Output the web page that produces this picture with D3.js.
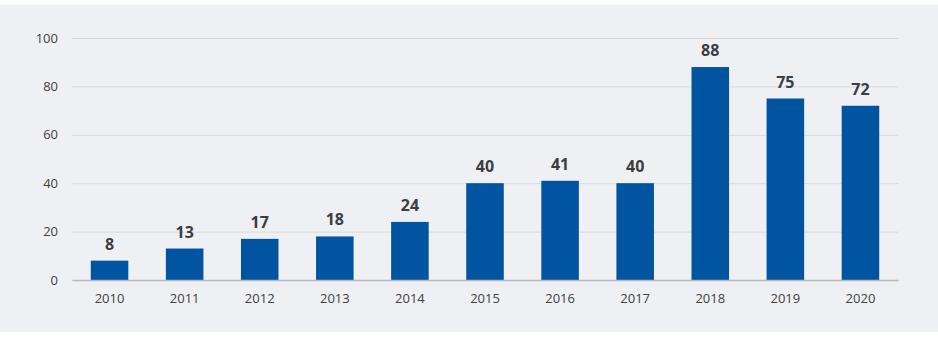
<!DOCTYPE html>
<html>
<head>
<meta charset="utf-8">
<script src="https://cdn.jsdelivr.net/npm/d3@7"></script>
<style>
  html, body { margin: 0; padding: 0; background: #ffffff; }
  svg { display: block; }
</style>
</head>
<body>
<svg id="chart" width="938" height="337"></svg>
<script>
const years = ["2010", "2011", "2012", "2013", "2014", "2015", "2016", "2017", "2018", "2019", "2020"];
const counts = [8, 13, 17, 18, 24, 40, 41, 40, 88, 75, 72];
const yTicks = [0, 20, 40, 60, 80, 100];

(function drawChart() {
  const svg = d3.select("#chart");
  const W = 938;
  const plotLeft = 72, plotRight = 898, plotTop = 38, plotBottom = 280;

  // panel background
  svg.append("rect").attr("x", 0).attr("y", 5).attr("width", W).attr("height", 327).attr("fill", "#eff0f3");

  const x = d3.scaleBand().domain(years).range([plotLeft, plotRight]).paddingInner(0.5).paddingOuter(0.25);
  const y = d3.scaleLinear().domain([0, 100]).range([plotBottom, plotTop]);

  // gridlines and y labels
  const yAxis = d3.axisLeft(y).tickValues(yTicks).tickSize(-(plotRight - plotLeft)).tickPadding(14);
  const gy = svg.append("g").attr("transform", `translate(${plotLeft},0)`).call(yAxis);
  gy.select(".domain").remove();
  gy.selectAll(".tick line").attr("stroke", "#d8d9dc").attr("stroke-width", 1);
  gy.selectAll(".tick text").attr("fill", "#404040").attr("font-family", "Open Sans, sans-serif").attr("font-size", 13);

  // bars
  svg.append("g").selectAll("rect").data(years).join("rect")
    .attr("x", d => x(d))
    .attr("y", (d, i) => y(counts[i]))
    .attr("width", x.bandwidth())
    .attr("height", (d, i) => y(0) - y(counts[i]))
    .attr("fill", "#0054a0");

  // value labels
  svg.append("g").selectAll("text").data(years).join("text")
    .attr("x", d => x(d) + x.bandwidth() / 2)
    .attr("y", (d, i) => y(counts[i]) - 11)
    .attr("text-anchor", "middle")
    .attr("fill", "#3a3d42")
    .attr("font-family", "Open Sans, sans-serif")
    .attr("font-weight", "bold")
    .attr("font-size", 16)
    .text((d, i) => counts[i]);

  // x axis
  const xAxis = d3.axisBottom(x).tickSize(0).tickPadding(14);
  const gx = svg.append("g").attr("transform", `translate(0,${plotBottom})`).call(xAxis);
  gx.select(".domain").attr("stroke", "#b8b9bc").attr("stroke-width", 1.5);
  gx.selectAll(".tick text").attr("fill", "#404040").attr("font-family", "Open Sans, sans-serif").attr("font-size", 13);
})();
</script>
</body>
</html>
